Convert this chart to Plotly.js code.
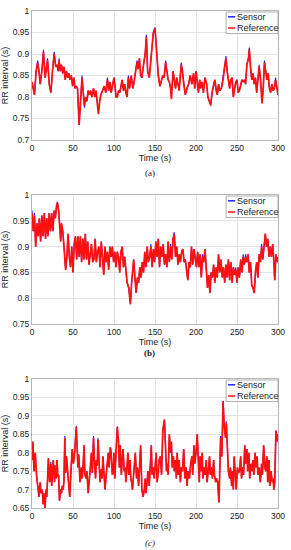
<!DOCTYPE html>
<html>
<head>
<meta charset="utf-8">
<script src="https://cdn.plot.ly/plotly-3.0.1.min.js"></script>
<style>html,body{margin:0;padding:0;background:#fff;}#chart{width:291px;height:550px;}</style>
</head>
<body>
<div id="chart"></div>
<script>
// ---- Data ----
var seriesNames = ["Sensor", "Reference"];
var panelLabels = ["(a)", "(b)", "(c)"];
var xTitle = "Time (s)";
var yTitle = "RR interval (s)";
var xRange = [0, 300];
var yRangeA = [0.7, 1];
var yRangeB = [0.75, 1];
var yRangeC = [0.65, 1];

var timeA = [0,2,3,5,7,8.5,10,12,14,16,19,21,23,25,27,29,30.5,32,33,34.5,36,37.5,39,40.5,42,43.5,45,46.5,48,49.5,51,52.5,54,55.5,57.5,59.5,61,62.5,64,65.5,67,68.5,70,71.5,73,75,76.5,78,79.5,81,82.5,84,86,88,90,92,93.5,95,96.5,98,100,101.5,102.5,104,105.5,107,108.5,110,111.5,113,114.5,116,117.5,119,121,123,124.5,126,128,129.5,131,132.5,134,136,138,139.5,141,143,144.5,146,148,150,152,154,156,158,159.5,161,163,164.5,166,167.5,169,170,172,173.5,175,176.5,178,179.5,182,183.5,185,187,189,191,193,195,197,198.5,200,201.5,203,204.5,206,207.5,209,211,213,214.5,216,218,219.5,221,223,224.5,226,227.5,229,231,233,235,236.5,238,239.5,241,242.5,244,245.5,247,248.5,250,251.5,253,254.5,256,257.5,259,260.5,262,264,265,266.5,268,269.5,271,272.5,274,275.5,277,278.5,279.5,280.5,282,283.5,285,286.5,288,289.5,291,292.5,294,295.5,297,298.5,300];
var refA = [.835,.81,.805,.86,.88,.86,.83,.86,.905,.845,.885,.83,.81,.86,.9,.87,.875,.86,.885,.86,.875,.855,.87,.84,.86,.845,.855,.84,.85,.825,.845,.82,.825,.82,.735,.8,.845,.81,.78,.8,.79,.815,.805,.815,.8,.82,.8,.815,.78,.76,.79,.805,.815,.825,.81,.84,.815,.835,.81,.83,.845,.82,.8,.8,.815,.81,.825,.84,.815,.83,.81,.8,.845,.82,.85,.82,.835,.86,.88,.865,.89,.85,.845,.875,.9,.94,.86,.845,.88,.9,.95,.96,.9,.85,.825,.84,.85,.845,.88,.86,.84,.835,.82,.795,.86,.84,.82,.845,.83,.815,.875,.86,.83,.805,.82,.83,.85,.83,.855,.82,.86,.83,.81,.84,.82,.835,.81,.845,.83,.8,.79,.78,.81,.825,.84,.815,.805,.83,.815,.82,.84,.87,.89,.86,.84,.82,.84,.845,.8,.82,.835,.84,.81,.815,.83,.84,.835,.84,.83,.875,.89,.91,.87,.84,.855,.83,.845,.81,.84,.87,.845,.82,.785,.82,.88,.86,.84,.855,.82,.81,.83,.815,.82,.84,.82,.805];
var senA = [.835,.81,.805,.86,.885,.86,.83,.86,.91,.845,.89,.83,.81,.86,.905,.87,.875,.86,.89,.86,.875,.855,.87,.84,.86,.845,.855,.84,.85,.825,.845,.82,.825,.82,.735,.8,.85,.81,.775,.8,.79,.815,.805,.815,.8,.82,.8,.815,.78,.765,.79,.805,.815,.825,.81,.845,.815,.835,.81,.83,.845,.82,.8,.8,.815,.81,.825,.84,.815,.83,.81,.8,.85,.82,.85,.82,.835,.86,.885,.865,.89,.85,.845,.875,.9,.945,.86,.845,.88,.9,.95,.962,.9,.85,.825,.84,.85,.845,.885,.86,.84,.835,.82,.8,.86,.84,.82,.845,.83,.815,.88,.86,.83,.805,.82,.83,.85,.83,.855,.82,.86,.83,.81,.84,.82,.835,.81,.845,.83,.8,.79,.785,.81,.825,.84,.815,.805,.83,.815,.82,.845,.875,.895,.86,.84,.82,.84,.845,.8,.82,.835,.84,.81,.815,.83,.84,.835,.84,.83,.875,.89,.915,.87,.84,.855,.83,.845,.81,.84,.875,.845,.82,.79,.82,.885,.86,.84,.855,.82,.81,.83,.815,.82,.845,.82,.805];

var timeB = [0,1.5,3,4.5,6,7.5,9,10.5,12,13.5,15,16.5,18,19.5,21,22.5,24,25.5,27,28.5,30,31,32.5,33.5,35,36,37.5,39,40,41,42.5,44,45.5,47,48.5,50,51.5,53,54.5,56,57.5,59,60.5,62,63.5,65,66.5,68,69.5,71,72.5,74,75.5,77,78.5,80,81.5,83,84.5,86,87.5,89,90.5,92,93.5,95,96.5,98,99.5,101,102.5,104,105.5,107,108.5,110,111.5,113,114.5,116,118,120,121.5,123,124,125.5,127,128.5,130,131.5,133,134.5,136,137.5,139,140.5,142,143.5,145,146.5,148,149.5,151,152.5,154,155.5,157,158.5,160,161.5,163,164.5,166,167.5,169,170.5,172,173.5,175,176.5,178,179.5,181,182.5,184,185.5,187,188.5,190,191.5,193,194.5,196,197.5,199,200.5,202,203.5,205,206.5,208,209.5,211,212.5,214,215.5,217,218.5,220,221.5,223,224.5,226,227.5,229,230.5,232,233.5,235,236.5,238,239.5,241,242.5,244,245.5,247,248.5,250,251.5,253,254.5,256,257.5,259,260.5,262,263.5,265,266.5,268,269.5,271,272.5,274,275.5,277,278.5,280,281.5,283,284.5,286,287.5,289,290.5,292,293.5,295,296,297.5,299,300];
var refB = [.965,.93,.96,.9,.945,.92,.955,.91,.96,.92,.965,.915,.955,.92,.965,.93,.965,.93,.97,.955,.98,.985,.97,.94,.91,.945,.93,.9,.87,.855,.88,.925,.88,.86,.9,.85,.905,.92,.875,.92,.88,.92,.87,.915,.875,.925,.875,.91,.865,.89,.905,.87,.875,.915,.87,.89,.9,.86,.91,.88,.845,.9,.87,.89,.855,.9,.88,.9,.87,.89,.86,.89,.88,.85,.89,.9,.86,.88,.845,.83,.82,.788,.83,.855,.875,.84,.81,.84,.83,.86,.84,.87,.85,.89,.86,.9,.87,.88,.9,.86,.895,.87,.91,.88,.915,.86,.9,.88,.905,.865,.885,.86,.91,.87,.9,.875,.915,.925,.88,.9,.865,.885,.87,.89,.895,.87,.875,.855,.835,.87,.86,.9,.865,.895,.87,.86,.89,.86,.885,.84,.88,.87,.895,.85,.82,.845,.81,.85,.84,.865,.83,.86,.84,.885,.85,.875,.84,.86,.83,.865,.84,.875,.835,.87,.83,.86,.845,.855,.83,.86,.84,.875,.85,.88,.865,.88,.87,.885,.85,.87,.825,.82,.81,.85,.87,.84,.885,.87,.9,.875,.91,.925,.9,.915,.88,.9,.88,.905,.87,.835,.885,.87,.88];
var senB = [.97,.93,.965,.9,.945,.92,.955,.91,.96,.92,.965,.915,.955,.92,.965,.93,.965,.93,.97,.955,.98,.987,.97,.945,.91,.945,.93,.9,.87,.855,.88,.925,.88,.86,.9,.85,.905,.92,.875,.92,.88,.92,.87,.915,.875,.925,.875,.91,.865,.89,.905,.87,.875,.915,.87,.89,.9,.86,.91,.88,.845,.9,.87,.89,.855,.9,.88,.9,.87,.89,.86,.89,.88,.85,.89,.9,.86,.88,.845,.83,.82,.79,.83,.855,.875,.84,.81,.84,.83,.86,.84,.87,.85,.89,.86,.9,.87,.88,.905,.86,.895,.87,.91,.88,.915,.86,.9,.88,.905,.865,.885,.86,.91,.87,.905,.875,.915,.928,.88,.9,.865,.885,.87,.89,.895,.87,.875,.855,.835,.87,.86,.9,.865,.895,.87,.86,.89,.86,.885,.84,.885,.87,.895,.85,.82,.845,.81,.85,.84,.865,.83,.86,.84,.885,.85,.875,.84,.86,.83,.865,.84,.875,.835,.87,.83,.86,.845,.86,.83,.86,.84,.875,.85,.885,.865,.885,.87,.885,.85,.87,.825,.82,.81,.85,.87,.84,.885,.87,.905,.875,.91,.925,.9,.915,.88,.9,.88,.905,.87,.835,.885,.87,.88];

var timeC = [0,1,2.5,4,5.5,6.5,7.5,8.5,10,11,12.5,13.5,14.5,15.5,16,17,18,19,20,21.5,23,24,25,26,27.5,28.5,29.5,30.5,31.5,32.5,33.5,35,36,37,38,39,40,41,42,43.5,44.5,46,47.5,49,50.5,52,54,55,56,57,58.5,60,61,62,63.5,64.5,66,67,68.5,70,71,72.5,73.5,75,76.5,77.5,78.5,79.5,80.5,82,83,84.5,85.5,86.5,88,89,90.5,91.5,93,94,95.5,96.5,98,99,100,101,102,103,104,105.5,106.5,107.5,109,110,111,112.5,113.5,114.5,116,117,118,119.5,120.5,121.5,122.5,124,125,126,127.5,128.5,130,131,132.5,134,135.5,137,138,139,140.5,141.5,143,144,145.5,146.5,148,149,150,151.5,152.5,154,155,156.5,158,159.5,161.5,163,164,165,166,167.5,169,170,171,172.5,173.5,175,176,177,178.5,179.5,181,182,183.5,185,186.5,188,189,190.5,192,193.5,195,196,197.5,198.5,200,201.5,202.5,204,205,206,207.5,208.5,210,211,212.5,213.5,215,216.5,217.5,219,220,221.5,222.5,224,225,226.5,228,229,230,231.5,233,234.5,236,237,238.5,239.5,241,242,243.5,244.5,245.5,246.5,248,249,250.5,251.5,253,254.5,255.5,257,258,259.5,260.5,262,263,264.5,265.5,267,268,269.5,270.5,272,273,274.5,275.5,277,278.5,280,281,282.5,284,285,286.5,287.5,289,290,291.5,293,294,295,296,297.5,298.5,300];
var refC = [.78,.83,.75,.8,.74,.71,.7,.68,.72,.69,.7,.66,.69,.66,.65,.7,.68,.73,.785,.72,.77,.71,.75,.78,.72,.765,.73,.78,.735,.74,.67,.7,.69,.71,.7,.725,.84,.745,.79,.74,.73,.68,.75,.81,.77,.8,.87,.77,.76,.795,.72,.76,.73,.75,.82,.74,.73,.75,.69,.73,.76,.8,.745,.84,.76,.73,.78,.765,.835,.74,.72,.755,.73,.79,.75,.7,.74,.765,.8,.76,.815,.8,.74,.75,.8,.73,.79,.82,.87,.83,.76,.82,.74,.78,.81,.75,.76,.72,.76,.8,.74,.78,.73,.72,.7,.745,.78,.8,.73,.76,.71,.75,.82,.7,.68,.7,.73,.69,.72,.75,.71,.76,.82,.74,.76,.73,.77,.8,.72,.745,.78,.79,.74,.86,.89,.82,.75,.77,.74,.85,.8,.83,.76,.79,.75,.78,.73,.8,.74,.78,.72,.76,.75,.81,.73,.76,.71,.75,.73,.77,.79,.74,.82,.77,.8,.85,.77,.72,.79,.75,.8,.73,.76,.74,.78,.72,.75,.79,.74,.76,.73,.78,.74,.72,.73,.72,.665,.73,.84,.79,.94,.87,.84,.88,.78,.75,.73,.76,.71,.75,.7,.79,.74,.7,.76,.745,.75,.79,.73,.76,.74,.82,.77,.81,.75,.8,.73,.77,.75,.78,.74,.8,.76,.79,.74,.76,.72,.77,.74,.82,.76,.75,.79,.72,.78,.71,.75,.72,.73,.7,.72,.86,.83,.85];
var senC = [.78,.83,.75,.8,.74,.71,.7,.68,.72,.69,.7,.66,.69,.66,.65,.7,.68,.73,.785,.72,.775,.71,.75,.78,.72,.765,.73,.78,.735,.74,.67,.7,.69,.71,.7,.725,.845,.745,.79,.74,.73,.68,.75,.81,.77,.8,.873,.77,.76,.795,.72,.76,.73,.75,.82,.74,.73,.75,.69,.73,.76,.8,.745,.845,.76,.73,.78,.765,.84,.74,.72,.755,.73,.79,.75,.7,.74,.765,.8,.76,.815,.8,.74,.75,.8,.73,.79,.82,.872,.83,.76,.82,.74,.78,.81,.75,.76,.72,.76,.8,.74,.78,.73,.72,.7,.745,.78,.8,.73,.76,.71,.75,.82,.7,.68,.7,.73,.69,.72,.75,.71,.76,.82,.74,.76,.73,.77,.8,.72,.745,.78,.79,.74,.86,.89,.82,.75,.77,.74,.85,.8,.83,.76,.79,.75,.78,.73,.8,.74,.78,.72,.76,.75,.81,.73,.76,.71,.75,.73,.77,.79,.74,.82,.77,.8,.85,.77,.72,.79,.75,.8,.73,.76,.74,.78,.72,.75,.79,.74,.76,.73,.78,.74,.72,.73,.72,.665,.73,.845,.79,.94,.87,.84,.885,.78,.75,.73,.76,.71,.75,.7,.79,.74,.7,.76,.745,.75,.79,.73,.76,.74,.82,.77,.81,.75,.8,.73,.77,.75,.78,.74,.8,.76,.79,.74,.76,.72,.77,.74,.82,.76,.75,.79,.72,.78,.71,.75,.72,.73,.7,.72,.86,.83,.85];

// ---- sanity check ----
[[timeA, refA, senA], [timeB, refB, senB], [timeC, refC, senC]].forEach(function (p, i) {
  if (p[0].length !== p[1].length || p[0].length !== p[2].length) {
    throw new Error("length mismatch panel " + i + ": " + p[0].length + " " + p[1].length + " " + p[2].length);
  }
});

// ---- Styling ----
var FONT = "Liberation Sans, Arial, sans-serif";
var SERIF = "Liberation Serif, Times New Roman, serif";
var BLUE = "#2020ff";
var RED = "#ff1010";
var GRID = "#e3e3e3";
var FRAME = "#b5b5b5";

var panels = [
  {t: timeA, ref: refA, sen: senA, yr: yRangeA, x: "x", y: "y", dom: [0.74545, 0.98]},
  {t: timeB, ref: refB, sen: senB, yr: yRangeB, x: "x2", y: "y2", dom: [0.41091, 0.64545]},
  {t: timeC, ref: refC, sen: senC, yr: yRangeC, x: "x3", y: "y3", dom: [0.07636, 0.31091]}
];

var traces = [];
var layout = {
  width: 291, height: 550,
  margin: {l: 0, r: 0, t: 0, b: 0},
  paper_bgcolor: "#fff", plot_bgcolor: "#fff",
  showlegend: false,
  font: {family: FONT, size: 8.5, color: "#222"},
  shapes: [], annotations: []
};

var labelY = [0.6855, 0.3582, 0.0127];
var labelStyle = [{}, {weight: "bold"}, {style: "italic"}];

panels.forEach(function (p, i) {
  traces.push({x: p.t, y: p.sen, xaxis: p.x, yaxis: p.y, type: "scatter", mode: "lines",
    name: seriesNames[0], line: {color: BLUE, width: 1.1}});
  traces.push({x: p.t, y: p.ref, xaxis: p.x, yaxis: p.y, type: "scatter", mode: "lines",
    name: seriesNames[1], line: {color: RED, width: 1.7}});

  var xk = i === 0 ? "xaxis" : "xaxis" + (i + 1);
  var yk = i === 0 ? "yaxis" : "yaxis" + (i + 1);
  layout[xk] = {
    domain: [0.10997, 0.95533], anchor: p.y, range: xRange, dtick: 50, tick0: 0,
    showgrid: true, gridcolor: GRID, gridwidth: 1, zeroline: false,
    showline: true, mirror: true, linecolor: FRAME, linewidth: 1,
    ticks: "", automargin: false,
    tickfont: {family: FONT, size: 8.5, color: "#222"},
    title: {text: xTitle, font: {family: FONT, size: 9, color: "#222"}, standoff: 1}
  };
  layout[yk] = {
    domain: p.dom, anchor: p.x, range: p.yr, dtick: 0.05, tick0: 0,
    showgrid: true, gridcolor: GRID, gridwidth: 1, zeroline: false,
    showline: true, mirror: true, linecolor: FRAME, linewidth: 1,
    ticks: "", automargin: false,
    tickfont: {family: FONT, size: 8.5, color: "#222"},
    title: {text: yTitle, font: {family: FONT, size: 9, color: "#222"}, standoff: 2}
  };

  var xd = p.x + " domain", yd = p.y + " domain";
  // legend box
  layout.shapes.push({type: "rect", xref: xd, yref: yd, x0: 0.789, x1: 1.0, y0: 0.825, y1: 0.992,
    fillcolor: "#fff", line: {color: "#9a9a9a", width: 0.8}, layer: "above"});
  layout.shapes.push({type: "line", xref: xd, yref: yd, x0: 0.797, x1: 0.826, y0: 0.955, y1: 0.955,
    line: {color: BLUE, width: 1.5}, layer: "above"});
  layout.shapes.push({type: "line", xref: xd, yref: yd, x0: 0.797, x1: 0.826, y0: 0.868, y1: 0.868,
    line: {color: RED, width: 1.5}, layer: "above"});
  layout.annotations.push({xref: xd, yref: yd, x: 0.826, y: 0.955, xanchor: "left", yanchor: "middle",
    text: seriesNames[0], showarrow: false, font: {family: FONT, size: 9, color: "#222"}});
  layout.annotations.push({xref: xd, yref: yd, x: 0.826, y: 0.868, xanchor: "left", yanchor: "middle",
    text: seriesNames[1], showarrow: false, font: {family: FONT, size: 9, color: "#222"}});
  // panel label
  var f = {family: SERIF, size: 9, color: "#222"};
  if (labelStyle[i].weight) f.weight = labelStyle[i].weight;
  if (labelStyle[i].style) f.style = labelStyle[i].style;
  layout.annotations.push({xref: "paper", yref: "paper", x: 0.515, y: labelY[i], xanchor: "center", yanchor: "middle",
    text: panelLabels[i], showarrow: false, font: f});
});

Plotly.newPlot("chart", traces, layout, {displayModeBar: false, staticPlot: true});
</script>
</body>
</html>
